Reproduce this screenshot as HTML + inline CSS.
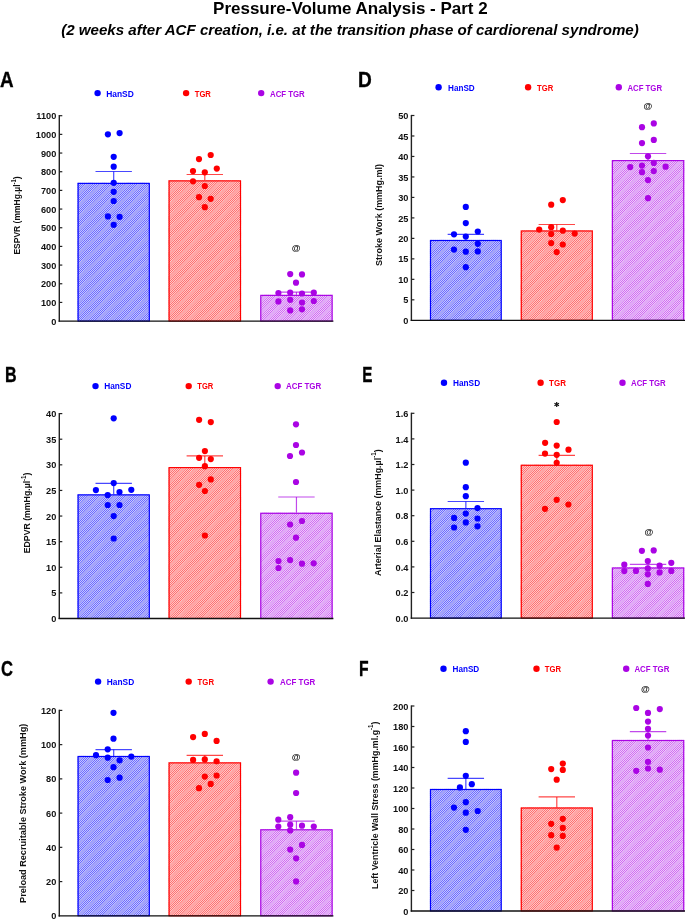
<!DOCTYPE html>
<html><head><meta charset="utf-8"><style>
html,body{margin:0;padding:0;background:#fff;}
body{width:685px;height:920px;overflow:hidden;}
svg{display:block;will-change:transform;}
text{font-family:"Liberation Sans", sans-serif;}
.tk{font-size:9.8px;font-weight:bold;fill:#111;}
.lg{font-size:9.8px;font-weight:bold;}
.pl{font-size:21.4px;font-weight:bold;fill:#000;stroke:#000;stroke-width:0.35px;}
.yl{font-size:9.2px;font-weight:bold;fill:#111;}
.at{font-size:9px;font-weight:bold;fill:#111;}
.star{font-size:11px;font-weight:bold;fill:#111;}
.t1{font-size:17.3px;font-weight:bold;fill:#000;}
.t2{font-size:14.6px;font-weight:bold;font-style:italic;fill:#000;}
</style></head><body>
<svg width="685" height="920" viewBox="0 0 685 920">
<defs>
<pattern id="ckb" width="2" height="2" patternUnits="userSpaceOnUse"><rect width="2" height="2" fill="#c6c6ff"/><rect width="1" height="1" fill="#6c6cff"/><rect x="1" y="1" width="1" height="1" fill="#6c6cff"/></pattern>
<pattern id="stb" width="8.8" height="8.8" patternUnits="userSpaceOnUse" patternTransform="rotate(-43)"><rect width="8.8" height="3.4" fill="#a4a4fa"/></pattern>
<pattern id="ckr" width="2" height="2" patternUnits="userSpaceOnUse"><rect width="2" height="2" fill="#ffc8c8"/><rect width="1" height="1" fill="#ff7070"/><rect x="1" y="1" width="1" height="1" fill="#ff7070"/></pattern>
<pattern id="str" width="8.8" height="8.8" patternUnits="userSpaceOnUse" patternTransform="rotate(-43)"><rect width="8.8" height="3.4" fill="#ffa6a6"/></pattern>
<pattern id="ckp" width="2" height="2" patternUnits="userSpaceOnUse"><rect width="2" height="2" fill="#f0c8fa"/><rect width="1" height="1" fill="#ce70f2"/><rect x="1" y="1" width="1" height="1" fill="#ce70f2"/></pattern>
<pattern id="stp" width="8.8" height="8.8" patternUnits="userSpaceOnUse" patternTransform="rotate(-43)"><rect width="8.8" height="3.4" fill="#e1aaf7"/></pattern>
</defs>
<rect x="77.5" y="182.8" width="72.4" height="138.3" fill="url(#ckb)"/>
<rect x="77.5" y="182.8" width="72.4" height="138.3" fill="url(#stb)"/>
<rect x="78.1" y="183.4" width="71.2" height="137.7" fill="none" stroke="#0000ff" stroke-width="1.15"/>
<line x1="113.7" y1="182.8" x2="113.7" y2="171.5" stroke="#0000ff" stroke-width="1.2" opacity="0.72"/>
<line x1="95.5" y1="171.5" x2="131.9" y2="171.5" stroke="#0000ff" stroke-width="1.2" opacity="0.72"/>
<rect x="168.5" y="180.3" width="72.6" height="140.8" fill="url(#ckr)"/>
<rect x="168.5" y="180.3" width="72.6" height="140.8" fill="url(#str)"/>
<rect x="169.1" y="180.9" width="71.4" height="140.2" fill="none" stroke="#ff0000" stroke-width="1.15"/>
<line x1="204.8" y1="180.3" x2="204.8" y2="174.5" stroke="#ff0000" stroke-width="1.2" opacity="0.72"/>
<line x1="186.6" y1="174.5" x2="223" y2="174.5" stroke="#ff0000" stroke-width="1.2" opacity="0.72"/>
<rect x="260.2" y="294.8" width="72.5" height="26.3" fill="url(#ckp)"/>
<rect x="260.2" y="294.8" width="72.5" height="26.3" fill="url(#stp)"/>
<rect x="260.8" y="295.4" width="71.3" height="25.7" fill="none" stroke="#aa04e4" stroke-width="1.15"/>
<line x1="296.45" y1="294.8" x2="296.45" y2="292.1" stroke="#aa04e4" stroke-width="1.2" opacity="0.72"/>
<line x1="278.25" y1="292.1" x2="314.65" y2="292.1" stroke="#aa04e4" stroke-width="1.2" opacity="0.72"/>
<line x1="59.3" y1="115.1" x2="59.3" y2="321.7" stroke="#222" stroke-width="1.4"/>
<line x1="58.6" y1="321.1" x2="333.4" y2="321.1" stroke="#111" stroke-width="1.3"/>
<text transform="translate(56.3,324.7) scale(0.94,1)" text-anchor="end" class="tk">0</text>
<line x1="59.3" y1="302.43" x2="62.3" y2="302.43" stroke="#222" stroke-width="1.2"/>
<text transform="translate(56.3,306.03) scale(0.94,1)" text-anchor="end" class="tk">100</text>
<line x1="59.3" y1="283.75" x2="62.3" y2="283.75" stroke="#222" stroke-width="1.2"/>
<text transform="translate(56.3,287.35) scale(0.94,1)" text-anchor="end" class="tk">200</text>
<line x1="59.3" y1="265.08" x2="62.3" y2="265.08" stroke="#222" stroke-width="1.2"/>
<text transform="translate(56.3,268.68) scale(0.94,1)" text-anchor="end" class="tk">300</text>
<line x1="59.3" y1="246.41" x2="62.3" y2="246.41" stroke="#222" stroke-width="1.2"/>
<text transform="translate(56.3,250.01) scale(0.94,1)" text-anchor="end" class="tk">400</text>
<line x1="59.3" y1="227.74" x2="62.3" y2="227.74" stroke="#222" stroke-width="1.2"/>
<text transform="translate(56.3,231.34) scale(0.94,1)" text-anchor="end" class="tk">500</text>
<line x1="59.3" y1="209.06" x2="62.3" y2="209.06" stroke="#222" stroke-width="1.2"/>
<text transform="translate(56.3,212.66) scale(0.94,1)" text-anchor="end" class="tk">600</text>
<line x1="59.3" y1="190.39" x2="62.3" y2="190.39" stroke="#222" stroke-width="1.2"/>
<text transform="translate(56.3,193.99) scale(0.94,1)" text-anchor="end" class="tk">700</text>
<line x1="59.3" y1="171.72" x2="62.3" y2="171.72" stroke="#222" stroke-width="1.2"/>
<text transform="translate(56.3,175.32) scale(0.94,1)" text-anchor="end" class="tk">800</text>
<line x1="59.3" y1="153.05" x2="62.3" y2="153.05" stroke="#222" stroke-width="1.2"/>
<text transform="translate(56.3,156.65) scale(0.94,1)" text-anchor="end" class="tk">900</text>
<line x1="59.3" y1="134.37" x2="62.3" y2="134.37" stroke="#222" stroke-width="1.2"/>
<text transform="translate(56.3,137.97) scale(0.94,1)" text-anchor="end" class="tk">1000</text>
<line x1="59.3" y1="115.7" x2="62.3" y2="115.7" stroke="#222" stroke-width="1.2"/>
<text transform="translate(56.3,119.3) scale(0.94,1)" text-anchor="end" class="tk">1100</text>
<circle cx="107.9" cy="134.3" r="3.1" fill="#0000ff"/>
<circle cx="119.6" cy="133.1" r="3.1" fill="#0000ff"/>
<circle cx="113.7" cy="156.8" r="3.1" fill="#0000ff"/>
<circle cx="113.7" cy="166.7" r="3.1" fill="#0000ff"/>
<circle cx="113.7" cy="182.8" r="3.1" fill="#0000ff"/>
<circle cx="113.7" cy="191.8" r="3.1" fill="#0000ff"/>
<circle cx="113.7" cy="201" r="3.1" fill="#0000ff"/>
<circle cx="107.9" cy="216.4" r="3.1" fill="#0000ff"/>
<circle cx="119.6" cy="216.8" r="3.1" fill="#0000ff"/>
<circle cx="113.7" cy="224.8" r="3.1" fill="#0000ff"/>
<circle cx="210.7" cy="155" r="3.1" fill="#ff0000"/>
<circle cx="199" cy="159.1" r="3.1" fill="#ff0000"/>
<circle cx="216.8" cy="168.6" r="3.1" fill="#ff0000"/>
<circle cx="193" cy="171.1" r="3.1" fill="#ff0000"/>
<circle cx="204.8" cy="172.3" r="3.1" fill="#ff0000"/>
<circle cx="193" cy="181.3" r="3.1" fill="#ff0000"/>
<circle cx="204.8" cy="186" r="3.1" fill="#ff0000"/>
<circle cx="199" cy="197.2" r="3.1" fill="#ff0000"/>
<circle cx="210.7" cy="198.8" r="3.1" fill="#ff0000"/>
<circle cx="204.8" cy="207.2" r="3.1" fill="#ff0000"/>
<circle cx="290.2" cy="274.1" r="3.1" fill="#aa04e4"/>
<circle cx="302" cy="274.4" r="3.1" fill="#aa04e4"/>
<circle cx="296" cy="282.7" r="3.1" fill="#aa04e4"/>
<circle cx="278.4" cy="293.1" r="3.1" fill="#aa04e4"/>
<circle cx="290.2" cy="292.7" r="3.1" fill="#aa04e4"/>
<circle cx="302" cy="293.5" r="3.1" fill="#aa04e4"/>
<circle cx="313.8" cy="292.7" r="3.1" fill="#aa04e4"/>
<circle cx="278.4" cy="301.4" r="3.1" fill="#aa04e4"/>
<circle cx="290.2" cy="299.8" r="3.1" fill="#aa04e4"/>
<circle cx="302" cy="302.5" r="3.1" fill="#aa04e4"/>
<circle cx="313.8" cy="301" r="3.1" fill="#aa04e4"/>
<circle cx="290.2" cy="310.4" r="3.1" fill="#aa04e4"/>
<circle cx="302" cy="309.3" r="3.1" fill="#aa04e4"/>
<circle cx="97.6" cy="93.1" r="3.2" fill="#0000ff"/>
<text x="106.2" y="96.5" class="lg" fill="#0000ff" textLength="27.6" lengthAdjust="spacingAndGlyphs">HanSD</text>
<circle cx="186.1" cy="93.1" r="3.2" fill="#ff0000"/>
<text x="194.7" y="96.5" class="lg" fill="#ff0000" textLength="16.2" lengthAdjust="spacingAndGlyphs">TGR</text>
<circle cx="261.2" cy="93.1" r="3.2" fill="#aa04e4"/>
<text x="270" y="96.5" class="lg" fill="#aa04e4" textLength="34.7" lengthAdjust="spacingAndGlyphs">ACF TGR</text>
<text x="296.2" y="251.4" text-anchor="middle" class="at">@</text>
<text x="0" y="86.7" class="pl" textLength="13.6" lengthAdjust="spacingAndGlyphs">A</text>
<text transform="translate(20.2,215.5) rotate(-90)" x="-39.1" y="0" class="yl" textLength="78.2" lengthAdjust="spacingAndGlyphs">ESPVR (mmHg.µl<tspan font-size="6.4" dy="-4.6">-1</tspan><tspan dy="4.6">)</tspan></text>
<rect x="429.9" y="239.9" width="71.9" height="80.4" fill="url(#ckb)"/>
<rect x="429.9" y="239.9" width="71.9" height="80.4" fill="url(#stb)"/>
<rect x="430.5" y="240.5" width="70.7" height="79.8" fill="none" stroke="#0000ff" stroke-width="1.15"/>
<line x1="465.85" y1="239.9" x2="465.85" y2="234.3" stroke="#0000ff" stroke-width="1.2" opacity="0.72"/>
<line x1="447.65" y1="234.3" x2="484.05" y2="234.3" stroke="#0000ff" stroke-width="1.2" opacity="0.72"/>
<rect x="520.7" y="230.4" width="72.2" height="89.9" fill="url(#ckr)"/>
<rect x="520.7" y="230.4" width="72.2" height="89.9" fill="url(#str)"/>
<rect x="521.3" y="231" width="71" height="89.3" fill="none" stroke="#ff0000" stroke-width="1.15"/>
<line x1="556.8" y1="230.4" x2="556.8" y2="224.5" stroke="#ff0000" stroke-width="1.2" opacity="0.72"/>
<line x1="538.6" y1="224.5" x2="575" y2="224.5" stroke="#ff0000" stroke-width="1.2" opacity="0.72"/>
<rect x="611.8" y="160" width="72.5" height="160.3" fill="url(#ckp)"/>
<rect x="611.8" y="160" width="72.5" height="160.3" fill="url(#stp)"/>
<rect x="612.4" y="160.6" width="71.3" height="159.7" fill="none" stroke="#aa04e4" stroke-width="1.15"/>
<line x1="648.05" y1="160" x2="648.05" y2="153.5" stroke="#aa04e4" stroke-width="1.2" opacity="0.72"/>
<line x1="629.85" y1="153.5" x2="666.25" y2="153.5" stroke="#aa04e4" stroke-width="1.2" opacity="0.72"/>
<line x1="411.4" y1="114.9" x2="411.4" y2="320.9" stroke="#222" stroke-width="1.4"/>
<line x1="410.7" y1="320.3" x2="685" y2="320.3" stroke="#111" stroke-width="1.3"/>
<text transform="translate(408.4,323.9) scale(0.94,1)" text-anchor="end" class="tk">0</text>
<line x1="411.4" y1="299.82" x2="414.4" y2="299.82" stroke="#222" stroke-width="1.2"/>
<text transform="translate(408.4,303.42) scale(0.94,1)" text-anchor="end" class="tk">5</text>
<line x1="411.4" y1="279.34" x2="414.4" y2="279.34" stroke="#222" stroke-width="1.2"/>
<text transform="translate(408.4,282.94) scale(0.94,1)" text-anchor="end" class="tk">10</text>
<line x1="411.4" y1="258.86" x2="414.4" y2="258.86" stroke="#222" stroke-width="1.2"/>
<text transform="translate(408.4,262.46) scale(0.94,1)" text-anchor="end" class="tk">15</text>
<line x1="411.4" y1="238.38" x2="414.4" y2="238.38" stroke="#222" stroke-width="1.2"/>
<text transform="translate(408.4,241.98) scale(0.94,1)" text-anchor="end" class="tk">20</text>
<line x1="411.4" y1="217.9" x2="414.4" y2="217.9" stroke="#222" stroke-width="1.2"/>
<text transform="translate(408.4,221.5) scale(0.94,1)" text-anchor="end" class="tk">25</text>
<line x1="411.4" y1="197.42" x2="414.4" y2="197.42" stroke="#222" stroke-width="1.2"/>
<text transform="translate(408.4,201.02) scale(0.94,1)" text-anchor="end" class="tk">30</text>
<line x1="411.4" y1="176.94" x2="414.4" y2="176.94" stroke="#222" stroke-width="1.2"/>
<text transform="translate(408.4,180.54) scale(0.94,1)" text-anchor="end" class="tk">35</text>
<line x1="411.4" y1="156.46" x2="414.4" y2="156.46" stroke="#222" stroke-width="1.2"/>
<text transform="translate(408.4,160.06) scale(0.94,1)" text-anchor="end" class="tk">40</text>
<line x1="411.4" y1="135.98" x2="414.4" y2="135.98" stroke="#222" stroke-width="1.2"/>
<text transform="translate(408.4,139.58) scale(0.94,1)" text-anchor="end" class="tk">45</text>
<line x1="411.4" y1="115.5" x2="414.4" y2="115.5" stroke="#222" stroke-width="1.2"/>
<text transform="translate(408.4,119.1) scale(0.94,1)" text-anchor="end" class="tk">50</text>
<circle cx="465.8" cy="206.9" r="3.1" fill="#0000ff"/>
<circle cx="465.8" cy="223.1" r="3.1" fill="#0000ff"/>
<circle cx="454" cy="234.3" r="3.1" fill="#0000ff"/>
<circle cx="477.8" cy="231.5" r="3.1" fill="#0000ff"/>
<circle cx="465.8" cy="236.5" r="3.1" fill="#0000ff"/>
<circle cx="477.8" cy="243.8" r="3.1" fill="#0000ff"/>
<circle cx="454" cy="249.6" r="3.1" fill="#0000ff"/>
<circle cx="465.8" cy="251.7" r="3.1" fill="#0000ff"/>
<circle cx="477.8" cy="251.4" r="3.1" fill="#0000ff"/>
<circle cx="465.8" cy="267.2" r="3.1" fill="#0000ff"/>
<circle cx="562.8" cy="200.1" r="3.1" fill="#ff0000"/>
<circle cx="551.2" cy="204.7" r="3.1" fill="#ff0000"/>
<circle cx="551.2" cy="227.2" r="3.1" fill="#ff0000"/>
<circle cx="539.2" cy="229.6" r="3.1" fill="#ff0000"/>
<circle cx="562.8" cy="230.7" r="3.1" fill="#ff0000"/>
<circle cx="551.2" cy="234" r="3.1" fill="#ff0000"/>
<circle cx="574.7" cy="233.6" r="3.1" fill="#ff0000"/>
<circle cx="551.2" cy="243.1" r="3.1" fill="#ff0000"/>
<circle cx="562.8" cy="244.5" r="3.1" fill="#ff0000"/>
<circle cx="556.7" cy="252.1" r="3.1" fill="#ff0000"/>
<circle cx="653.8" cy="123.4" r="3.1" fill="#aa04e4"/>
<circle cx="642" cy="127.2" r="3.1" fill="#aa04e4"/>
<circle cx="653.8" cy="139.9" r="3.1" fill="#aa04e4"/>
<circle cx="642" cy="143.1" r="3.1" fill="#aa04e4"/>
<circle cx="648" cy="156.3" r="3.1" fill="#aa04e4"/>
<circle cx="653.8" cy="162.9" r="3.1" fill="#aa04e4"/>
<circle cx="642" cy="165.6" r="3.1" fill="#aa04e4"/>
<circle cx="630.2" cy="167.1" r="3.1" fill="#aa04e4"/>
<circle cx="665.6" cy="166.7" r="3.1" fill="#aa04e4"/>
<circle cx="642" cy="172.2" r="3.1" fill="#aa04e4"/>
<circle cx="653.8" cy="171.1" r="3.1" fill="#aa04e4"/>
<circle cx="648" cy="180.1" r="3.1" fill="#aa04e4"/>
<circle cx="648" cy="198.2" r="3.1" fill="#aa04e4"/>
<circle cx="438.6" cy="87.3" r="3.2" fill="#0000ff"/>
<text x="448" y="90.7" class="lg" fill="#0000ff" textLength="26.7" lengthAdjust="spacingAndGlyphs">HanSD</text>
<circle cx="528.1" cy="87.3" r="3.2" fill="#ff0000"/>
<text x="537.1" y="90.7" class="lg" fill="#ff0000" textLength="16.2" lengthAdjust="spacingAndGlyphs">TGR</text>
<circle cx="618.8" cy="87.3" r="3.2" fill="#aa04e4"/>
<text x="627.4" y="90.7" class="lg" fill="#aa04e4" textLength="34.7" lengthAdjust="spacingAndGlyphs">ACF TGR</text>
<text x="648" y="108.7" text-anchor="middle" class="at">@</text>
<text x="357.9" y="86.7" class="pl" textLength="13.8" lengthAdjust="spacingAndGlyphs">D</text>
<text transform="translate(382.4,215) rotate(-90)" x="-51" y="0" class="yl" textLength="102" lengthAdjust="spacingAndGlyphs">Stroke Work (mmHg.ml)</text>
<rect x="77.5" y="494.3" width="72.4" height="124.2" fill="url(#ckb)"/>
<rect x="77.5" y="494.3" width="72.4" height="124.2" fill="url(#stb)"/>
<rect x="78.1" y="494.9" width="71.2" height="123.6" fill="none" stroke="#0000ff" stroke-width="1.15"/>
<line x1="113.7" y1="494.3" x2="113.7" y2="483.4" stroke="#0000ff" stroke-width="1.2" opacity="0.72"/>
<line x1="95.5" y1="483.4" x2="131.9" y2="483.4" stroke="#0000ff" stroke-width="1.2" opacity="0.72"/>
<rect x="168.5" y="467" width="72.6" height="151.5" fill="url(#ckr)"/>
<rect x="168.5" y="467" width="72.6" height="151.5" fill="url(#str)"/>
<rect x="169.1" y="467.6" width="71.4" height="150.9" fill="none" stroke="#ff0000" stroke-width="1.15"/>
<line x1="204.8" y1="467" x2="204.8" y2="455.9" stroke="#ff0000" stroke-width="1.2" opacity="0.72"/>
<line x1="186.6" y1="455.9" x2="223" y2="455.9" stroke="#ff0000" stroke-width="1.2" opacity="0.72"/>
<rect x="260.2" y="512.7" width="72.5" height="105.8" fill="url(#ckp)"/>
<rect x="260.2" y="512.7" width="72.5" height="105.8" fill="url(#stp)"/>
<rect x="260.8" y="513.3" width="71.3" height="105.2" fill="none" stroke="#aa04e4" stroke-width="1.15"/>
<line x1="296.45" y1="512.7" x2="296.45" y2="497" stroke="#aa04e4" stroke-width="1.2" opacity="0.72"/>
<line x1="278.25" y1="497" x2="314.65" y2="497" stroke="#aa04e4" stroke-width="1.2" opacity="0.72"/>
<line x1="59.3" y1="413" x2="59.3" y2="619.1" stroke="#222" stroke-width="1.4"/>
<line x1="58.6" y1="618.5" x2="333.4" y2="618.5" stroke="#111" stroke-width="1.3"/>
<text transform="translate(56.3,622.1) scale(0.94,1)" text-anchor="end" class="tk">0</text>
<line x1="59.3" y1="592.89" x2="62.3" y2="592.89" stroke="#222" stroke-width="1.2"/>
<text transform="translate(56.3,596.49) scale(0.94,1)" text-anchor="end" class="tk">5</text>
<line x1="59.3" y1="567.27" x2="62.3" y2="567.27" stroke="#222" stroke-width="1.2"/>
<text transform="translate(56.3,570.88) scale(0.94,1)" text-anchor="end" class="tk">10</text>
<line x1="59.3" y1="541.66" x2="62.3" y2="541.66" stroke="#222" stroke-width="1.2"/>
<text transform="translate(56.3,545.26) scale(0.94,1)" text-anchor="end" class="tk">15</text>
<line x1="59.3" y1="516.05" x2="62.3" y2="516.05" stroke="#222" stroke-width="1.2"/>
<text transform="translate(56.3,519.65) scale(0.94,1)" text-anchor="end" class="tk">20</text>
<line x1="59.3" y1="490.44" x2="62.3" y2="490.44" stroke="#222" stroke-width="1.2"/>
<text transform="translate(56.3,494.04) scale(0.94,1)" text-anchor="end" class="tk">25</text>
<line x1="59.3" y1="464.83" x2="62.3" y2="464.83" stroke="#222" stroke-width="1.2"/>
<text transform="translate(56.3,468.43) scale(0.94,1)" text-anchor="end" class="tk">30</text>
<line x1="59.3" y1="439.21" x2="62.3" y2="439.21" stroke="#222" stroke-width="1.2"/>
<text transform="translate(56.3,442.81) scale(0.94,1)" text-anchor="end" class="tk">35</text>
<line x1="59.3" y1="413.6" x2="62.3" y2="413.6" stroke="#222" stroke-width="1.2"/>
<text transform="translate(56.3,417.2) scale(0.94,1)" text-anchor="end" class="tk">40</text>
<circle cx="113.7" cy="418.3" r="3.1" fill="#0000ff"/>
<circle cx="113.7" cy="483.1" r="3.1" fill="#0000ff"/>
<circle cx="95.9" cy="490.1" r="3.1" fill="#0000ff"/>
<circle cx="131.3" cy="489.8" r="3.1" fill="#0000ff"/>
<circle cx="119.5" cy="492.1" r="3.1" fill="#0000ff"/>
<circle cx="107.7" cy="495.1" r="3.1" fill="#0000ff"/>
<circle cx="107.7" cy="505" r="3.1" fill="#0000ff"/>
<circle cx="119.5" cy="505" r="3.1" fill="#0000ff"/>
<circle cx="113.7" cy="516.1" r="3.1" fill="#0000ff"/>
<circle cx="113.7" cy="538.5" r="3.1" fill="#0000ff"/>
<circle cx="199.1" cy="419.8" r="3.1" fill="#ff0000"/>
<circle cx="210.8" cy="422.1" r="3.1" fill="#ff0000"/>
<circle cx="204.9" cy="451.1" r="3.1" fill="#ff0000"/>
<circle cx="199.1" cy="457.8" r="3.1" fill="#ff0000"/>
<circle cx="210.8" cy="459.1" r="3.1" fill="#ff0000"/>
<circle cx="204.9" cy="466.2" r="3.1" fill="#ff0000"/>
<circle cx="210.8" cy="479.4" r="3.1" fill="#ff0000"/>
<circle cx="199.1" cy="484.8" r="3.1" fill="#ff0000"/>
<circle cx="204.9" cy="491" r="3.1" fill="#ff0000"/>
<circle cx="204.9" cy="535.5" r="3.1" fill="#ff0000"/>
<circle cx="296" cy="424.3" r="3.1" fill="#aa04e4"/>
<circle cx="296" cy="445" r="3.1" fill="#aa04e4"/>
<circle cx="290" cy="456" r="3.1" fill="#aa04e4"/>
<circle cx="302" cy="452.5" r="3.1" fill="#aa04e4"/>
<circle cx="296" cy="482" r="3.1" fill="#aa04e4"/>
<circle cx="302" cy="521" r="3.1" fill="#aa04e4"/>
<circle cx="290.1" cy="524.5" r="3.1" fill="#aa04e4"/>
<circle cx="296" cy="537.7" r="3.1" fill="#aa04e4"/>
<circle cx="278.5" cy="561" r="3.1" fill="#aa04e4"/>
<circle cx="290.1" cy="560.1" r="3.1" fill="#aa04e4"/>
<circle cx="302" cy="563.7" r="3.1" fill="#aa04e4"/>
<circle cx="313.7" cy="563.3" r="3.1" fill="#aa04e4"/>
<circle cx="278.5" cy="568" r="3.1" fill="#aa04e4"/>
<circle cx="95.5" cy="386.1" r="3.2" fill="#0000ff"/>
<text x="104.2" y="388.9" class="lg" fill="#0000ff" textLength="27.2" lengthAdjust="spacingAndGlyphs">HanSD</text>
<circle cx="188.7" cy="386.1" r="3.2" fill="#ff0000"/>
<text x="197.3" y="388.9" class="lg" fill="#ff0000" textLength="16" lengthAdjust="spacingAndGlyphs">TGR</text>
<circle cx="277.7" cy="386.1" r="3.2" fill="#aa04e4"/>
<text x="285.9" y="388.9" class="lg" fill="#aa04e4" textLength="35.4" lengthAdjust="spacingAndGlyphs">ACF TGR</text>
<text x="4.9" y="381.6" class="pl" textLength="11.6" lengthAdjust="spacingAndGlyphs">B</text>
<text transform="translate(30.4,512.95) rotate(-90)" x="-40.35" y="0" class="yl" textLength="80.7" lengthAdjust="spacingAndGlyphs">EDPVR (mmHg.µl<tspan font-size="6.4" dy="-4.6">-1</tspan><tspan dy="4.6">)</tspan></text>
<rect x="429.9" y="508.1" width="71.9" height="110" fill="url(#ckb)"/>
<rect x="429.9" y="508.1" width="71.9" height="110" fill="url(#stb)"/>
<rect x="430.5" y="508.7" width="70.7" height="109.4" fill="none" stroke="#0000ff" stroke-width="1.15"/>
<line x1="465.85" y1="508.1" x2="465.85" y2="501.5" stroke="#0000ff" stroke-width="1.2" opacity="0.72"/>
<line x1="447.65" y1="501.5" x2="484.05" y2="501.5" stroke="#0000ff" stroke-width="1.2" opacity="0.72"/>
<rect x="520.7" y="464.7" width="72.2" height="153.4" fill="url(#ckr)"/>
<rect x="520.7" y="464.7" width="72.2" height="153.4" fill="url(#str)"/>
<rect x="521.3" y="465.3" width="71" height="152.8" fill="none" stroke="#ff0000" stroke-width="1.15"/>
<line x1="556.8" y1="464.7" x2="556.8" y2="455.3" stroke="#ff0000" stroke-width="1.2" opacity="0.72"/>
<line x1="538.6" y1="455.3" x2="575" y2="455.3" stroke="#ff0000" stroke-width="1.2" opacity="0.72"/>
<rect x="611.8" y="567.4" width="72.5" height="50.7" fill="url(#ckp)"/>
<rect x="611.8" y="567.4" width="72.5" height="50.7" fill="url(#stp)"/>
<rect x="612.4" y="568" width="71.3" height="50.1" fill="none" stroke="#aa04e4" stroke-width="1.15"/>
<line x1="648.05" y1="567.4" x2="648.05" y2="564.3" stroke="#aa04e4" stroke-width="1.2" opacity="0.72"/>
<line x1="629.85" y1="564.3" x2="666.25" y2="564.3" stroke="#aa04e4" stroke-width="1.2" opacity="0.72"/>
<line x1="411.4" y1="412.7" x2="411.4" y2="618.7" stroke="#222" stroke-width="1.4"/>
<line x1="410.7" y1="618.1" x2="685" y2="618.1" stroke="#111" stroke-width="1.3"/>
<text transform="translate(408.4,621.7) scale(0.94,1)" text-anchor="end" class="tk">0.0</text>
<line x1="411.4" y1="592.5" x2="414.4" y2="592.5" stroke="#222" stroke-width="1.2"/>
<text transform="translate(408.4,596.1) scale(0.94,1)" text-anchor="end" class="tk">0.2</text>
<line x1="411.4" y1="566.9" x2="414.4" y2="566.9" stroke="#222" stroke-width="1.2"/>
<text transform="translate(408.4,570.5) scale(0.94,1)" text-anchor="end" class="tk">0.4</text>
<line x1="411.4" y1="541.3" x2="414.4" y2="541.3" stroke="#222" stroke-width="1.2"/>
<text transform="translate(408.4,544.9) scale(0.94,1)" text-anchor="end" class="tk">0.6</text>
<line x1="411.4" y1="515.7" x2="414.4" y2="515.7" stroke="#222" stroke-width="1.2"/>
<text transform="translate(408.4,519.3) scale(0.94,1)" text-anchor="end" class="tk">0.8</text>
<line x1="411.4" y1="490.1" x2="414.4" y2="490.1" stroke="#222" stroke-width="1.2"/>
<text transform="translate(408.4,493.7) scale(0.94,1)" text-anchor="end" class="tk">1.0</text>
<line x1="411.4" y1="464.5" x2="414.4" y2="464.5" stroke="#222" stroke-width="1.2"/>
<text transform="translate(408.4,468.1) scale(0.94,1)" text-anchor="end" class="tk">1.2</text>
<line x1="411.4" y1="438.9" x2="414.4" y2="438.9" stroke="#222" stroke-width="1.2"/>
<text transform="translate(408.4,442.5) scale(0.94,1)" text-anchor="end" class="tk">1.4</text>
<line x1="411.4" y1="413.3" x2="414.4" y2="413.3" stroke="#222" stroke-width="1.2"/>
<text transform="translate(408.4,416.9) scale(0.94,1)" text-anchor="end" class="tk">1.6</text>
<circle cx="465.8" cy="462.7" r="3.1" fill="#0000ff"/>
<circle cx="465.8" cy="487.2" r="3.1" fill="#0000ff"/>
<circle cx="465.8" cy="496.2" r="3.1" fill="#0000ff"/>
<circle cx="477.5" cy="508.1" r="3.1" fill="#0000ff"/>
<circle cx="465.8" cy="513.6" r="3.1" fill="#0000ff"/>
<circle cx="454.1" cy="517.9" r="3.1" fill="#0000ff"/>
<circle cx="477.5" cy="518.5" r="3.1" fill="#0000ff"/>
<circle cx="465.8" cy="522.4" r="3.1" fill="#0000ff"/>
<circle cx="454.1" cy="527.5" r="3.1" fill="#0000ff"/>
<circle cx="477.5" cy="526.3" r="3.1" fill="#0000ff"/>
<circle cx="556.7" cy="422" r="3.1" fill="#ff0000"/>
<circle cx="545.1" cy="442.8" r="3.1" fill="#ff0000"/>
<circle cx="556.7" cy="445.6" r="3.1" fill="#ff0000"/>
<circle cx="568.5" cy="449.7" r="3.1" fill="#ff0000"/>
<circle cx="545" cy="453.6" r="3.1" fill="#ff0000"/>
<circle cx="556.7" cy="454.8" r="3.1" fill="#ff0000"/>
<circle cx="556.7" cy="462.8" r="3.1" fill="#ff0000"/>
<circle cx="556.7" cy="499.8" r="3.1" fill="#ff0000"/>
<circle cx="568.4" cy="504.5" r="3.1" fill="#ff0000"/>
<circle cx="545" cy="508.8" r="3.1" fill="#ff0000"/>
<circle cx="641.9" cy="550.8" r="3.1" fill="#aa04e4"/>
<circle cx="653.7" cy="550.4" r="3.1" fill="#aa04e4"/>
<circle cx="647.8" cy="561" r="3.1" fill="#aa04e4"/>
<circle cx="624.3" cy="564.7" r="3.1" fill="#aa04e4"/>
<circle cx="671.3" cy="562.8" r="3.1" fill="#aa04e4"/>
<circle cx="659.6" cy="565.7" r="3.1" fill="#aa04e4"/>
<circle cx="647.8" cy="568.4" r="3.1" fill="#aa04e4"/>
<circle cx="624.3" cy="571.1" r="3.1" fill="#aa04e4"/>
<circle cx="636" cy="570.9" r="3.1" fill="#aa04e4"/>
<circle cx="659.6" cy="572.4" r="3.1" fill="#aa04e4"/>
<circle cx="671.3" cy="570.9" r="3.1" fill="#aa04e4"/>
<circle cx="647.8" cy="574.3" r="3.1" fill="#aa04e4"/>
<circle cx="647.8" cy="583.9" r="3.1" fill="#aa04e4"/>
<circle cx="444" cy="382.8" r="3.2" fill="#0000ff"/>
<text x="453" y="386.2" class="lg" fill="#0000ff" textLength="27.1" lengthAdjust="spacingAndGlyphs">HanSD</text>
<circle cx="540.6" cy="382.8" r="3.2" fill="#ff0000"/>
<text x="549.1" y="386.2" class="lg" fill="#ff0000" textLength="16.8" lengthAdjust="spacingAndGlyphs">TGR</text>
<circle cx="622.5" cy="382.8" r="3.2" fill="#aa04e4"/>
<text x="631" y="386.2" class="lg" fill="#aa04e4" textLength="34.7" lengthAdjust="spacingAndGlyphs">ACF TGR</text>
<line x1="556.7" y1="401.9" x2="556.7" y2="407.1" stroke="#111" stroke-width="1.2"/>
<line x1="554.45" y1="403.2" x2="558.95" y2="405.8" stroke="#111" stroke-width="1.2"/>
<line x1="558.95" y1="403.2" x2="554.45" y2="405.8" stroke="#111" stroke-width="1.2"/>
<text x="648.8" y="535" text-anchor="middle" class="at">@</text>
<text x="362.2" y="381.6" class="pl" textLength="10.2" lengthAdjust="spacingAndGlyphs">E</text>
<text transform="translate(380.5,512.7) rotate(-90)" x="-63.3" y="0" class="yl" textLength="126.6" lengthAdjust="spacingAndGlyphs">Arterial Elastance (mmHg.µl<tspan font-size="6.4" dy="-4.6">-1</tspan><tspan dy="4.6">)</tspan></text>
<rect x="77.5" y="755.9" width="72.4" height="159.9" fill="url(#ckb)"/>
<rect x="77.5" y="755.9" width="72.4" height="159.9" fill="url(#stb)"/>
<rect x="78.1" y="756.5" width="71.2" height="159.3" fill="none" stroke="#0000ff" stroke-width="1.15"/>
<line x1="113.7" y1="755.9" x2="113.7" y2="749.6" stroke="#0000ff" stroke-width="1.2" opacity="0.72"/>
<line x1="95.5" y1="749.6" x2="131.9" y2="749.6" stroke="#0000ff" stroke-width="1.2" opacity="0.72"/>
<rect x="168.5" y="762.3" width="72.6" height="153.5" fill="url(#ckr)"/>
<rect x="168.5" y="762.3" width="72.6" height="153.5" fill="url(#str)"/>
<rect x="169.1" y="762.9" width="71.4" height="152.9" fill="none" stroke="#ff0000" stroke-width="1.15"/>
<line x1="204.8" y1="762.3" x2="204.8" y2="755.3" stroke="#ff0000" stroke-width="1.2" opacity="0.72"/>
<line x1="186.6" y1="755.3" x2="223" y2="755.3" stroke="#ff0000" stroke-width="1.2" opacity="0.72"/>
<rect x="260.2" y="829.2" width="72.5" height="86.6" fill="url(#ckp)"/>
<rect x="260.2" y="829.2" width="72.5" height="86.6" fill="url(#stp)"/>
<rect x="260.8" y="829.8" width="71.3" height="86" fill="none" stroke="#aa04e4" stroke-width="1.15"/>
<line x1="296.45" y1="829.2" x2="296.45" y2="821.2" stroke="#aa04e4" stroke-width="1.2" opacity="0.72"/>
<line x1="278.25" y1="821.2" x2="314.65" y2="821.2" stroke="#aa04e4" stroke-width="1.2" opacity="0.72"/>
<line x1="59.3" y1="709.8" x2="59.3" y2="916.4" stroke="#222" stroke-width="1.4"/>
<line x1="58.6" y1="915.8" x2="333.4" y2="915.8" stroke="#111" stroke-width="1.3"/>
<text transform="translate(56.3,919.4) scale(0.94,1)" text-anchor="end" class="tk">0</text>
<line x1="59.3" y1="881.57" x2="62.3" y2="881.57" stroke="#222" stroke-width="1.2"/>
<text transform="translate(56.3,885.17) scale(0.94,1)" text-anchor="end" class="tk">20</text>
<line x1="59.3" y1="847.33" x2="62.3" y2="847.33" stroke="#222" stroke-width="1.2"/>
<text transform="translate(56.3,850.93) scale(0.94,1)" text-anchor="end" class="tk">40</text>
<line x1="59.3" y1="813.1" x2="62.3" y2="813.1" stroke="#222" stroke-width="1.2"/>
<text transform="translate(56.3,816.7) scale(0.94,1)" text-anchor="end" class="tk">60</text>
<line x1="59.3" y1="778.87" x2="62.3" y2="778.87" stroke="#222" stroke-width="1.2"/>
<text transform="translate(56.3,782.47) scale(0.94,1)" text-anchor="end" class="tk">80</text>
<line x1="59.3" y1="744.63" x2="62.3" y2="744.63" stroke="#222" stroke-width="1.2"/>
<text transform="translate(56.3,748.23) scale(0.94,1)" text-anchor="end" class="tk">100</text>
<line x1="59.3" y1="710.4" x2="62.3" y2="710.4" stroke="#222" stroke-width="1.2"/>
<text transform="translate(56.3,714) scale(0.94,1)" text-anchor="end" class="tk">120</text>
<circle cx="113.5" cy="712.8" r="3.1" fill="#0000ff"/>
<circle cx="113.5" cy="738.7" r="3.1" fill="#0000ff"/>
<circle cx="107.7" cy="749.3" r="3.1" fill="#0000ff"/>
<circle cx="96" cy="755.2" r="3.1" fill="#0000ff"/>
<circle cx="107.7" cy="757.7" r="3.1" fill="#0000ff"/>
<circle cx="131.3" cy="756.6" r="3.1" fill="#0000ff"/>
<circle cx="119.6" cy="760.3" r="3.1" fill="#0000ff"/>
<circle cx="113.5" cy="767.2" r="3.1" fill="#0000ff"/>
<circle cx="119.6" cy="777.7" r="3.1" fill="#0000ff"/>
<circle cx="107.7" cy="780" r="3.1" fill="#0000ff"/>
<circle cx="193.1" cy="737.1" r="3.1" fill="#ff0000"/>
<circle cx="204.8" cy="733.9" r="3.1" fill="#ff0000"/>
<circle cx="216.6" cy="740.9" r="3.1" fill="#ff0000"/>
<circle cx="193.1" cy="759.9" r="3.1" fill="#ff0000"/>
<circle cx="204.8" cy="759.4" r="3.1" fill="#ff0000"/>
<circle cx="216.6" cy="761.3" r="3.1" fill="#ff0000"/>
<circle cx="204.8" cy="776.6" r="3.1" fill="#ff0000"/>
<circle cx="216.6" cy="775.5" r="3.1" fill="#ff0000"/>
<circle cx="210.7" cy="783.9" r="3.1" fill="#ff0000"/>
<circle cx="199" cy="788.2" r="3.1" fill="#ff0000"/>
<circle cx="296.1" cy="772.7" r="3.1" fill="#aa04e4"/>
<circle cx="296.1" cy="793" r="3.1" fill="#aa04e4"/>
<circle cx="278.3" cy="819.7" r="3.1" fill="#aa04e4"/>
<circle cx="290.2" cy="817.2" r="3.1" fill="#aa04e4"/>
<circle cx="290.2" cy="824.7" r="3.1" fill="#aa04e4"/>
<circle cx="278.3" cy="826.6" r="3.1" fill="#aa04e4"/>
<circle cx="302" cy="825.7" r="3.1" fill="#aa04e4"/>
<circle cx="313.8" cy="826.6" r="3.1" fill="#aa04e4"/>
<circle cx="290.2" cy="830.4" r="3.1" fill="#aa04e4"/>
<circle cx="302" cy="844.9" r="3.1" fill="#aa04e4"/>
<circle cx="290.2" cy="849.6" r="3.1" fill="#aa04e4"/>
<circle cx="296.1" cy="858.3" r="3.1" fill="#aa04e4"/>
<circle cx="296.1" cy="881.4" r="3.1" fill="#aa04e4"/>
<circle cx="98.1" cy="681.6" r="3.2" fill="#0000ff"/>
<text x="106.8" y="685" class="lg" fill="#0000ff" textLength="27.4" lengthAdjust="spacingAndGlyphs">HanSD</text>
<circle cx="188.7" cy="681.6" r="3.2" fill="#ff0000"/>
<text x="197.6" y="685" class="lg" fill="#ff0000" textLength="16.4" lengthAdjust="spacingAndGlyphs">TGR</text>
<circle cx="270.6" cy="681.6" r="3.2" fill="#aa04e4"/>
<text x="280" y="685" class="lg" fill="#aa04e4" textLength="35.3" lengthAdjust="spacingAndGlyphs">ACF TGR</text>
<text x="296.1" y="759.9" text-anchor="middle" class="at">@</text>
<text x="0.9" y="676.1" class="pl" textLength="12" lengthAdjust="spacingAndGlyphs">C</text>
<text transform="translate(25.5,813.3) rotate(-90)" x="-89.6" y="0" class="yl" textLength="179.2" lengthAdjust="spacingAndGlyphs">Preload Recruitable Stroke Work (mmHg)</text>
<rect x="429.9" y="788.9" width="71.9" height="122.1" fill="url(#ckb)"/>
<rect x="429.9" y="788.9" width="71.9" height="122.1" fill="url(#stb)"/>
<rect x="430.5" y="789.5" width="70.7" height="121.5" fill="none" stroke="#0000ff" stroke-width="1.15"/>
<line x1="465.85" y1="788.9" x2="465.85" y2="778.4" stroke="#0000ff" stroke-width="1.2" opacity="0.72"/>
<line x1="447.65" y1="778.4" x2="484.05" y2="778.4" stroke="#0000ff" stroke-width="1.2" opacity="0.72"/>
<rect x="520.7" y="807.4" width="72.2" height="103.6" fill="url(#ckr)"/>
<rect x="520.7" y="807.4" width="72.2" height="103.6" fill="url(#str)"/>
<rect x="521.3" y="808" width="71" height="103" fill="none" stroke="#ff0000" stroke-width="1.15"/>
<line x1="556.8" y1="807.4" x2="556.8" y2="796.9" stroke="#ff0000" stroke-width="1.2" opacity="0.72"/>
<line x1="538.6" y1="796.9" x2="575" y2="796.9" stroke="#ff0000" stroke-width="1.2" opacity="0.72"/>
<rect x="611.8" y="739.9" width="72.5" height="171.1" fill="url(#ckp)"/>
<rect x="611.8" y="739.9" width="72.5" height="171.1" fill="url(#stp)"/>
<rect x="612.4" y="740.5" width="71.3" height="170.5" fill="none" stroke="#aa04e4" stroke-width="1.15"/>
<line x1="648.05" y1="739.9" x2="648.05" y2="731.7" stroke="#aa04e4" stroke-width="1.2" opacity="0.72"/>
<line x1="629.85" y1="731.7" x2="666.25" y2="731.7" stroke="#aa04e4" stroke-width="1.2" opacity="0.72"/>
<line x1="411.4" y1="705.4" x2="411.4" y2="911.6" stroke="#222" stroke-width="1.4"/>
<line x1="410.7" y1="911" x2="685" y2="911" stroke="#111" stroke-width="1.3"/>
<text transform="translate(408.4,914.6) scale(0.94,1)" text-anchor="end" class="tk">0</text>
<line x1="411.4" y1="890.5" x2="414.4" y2="890.5" stroke="#222" stroke-width="1.2"/>
<text transform="translate(408.4,894.1) scale(0.94,1)" text-anchor="end" class="tk">20</text>
<line x1="411.4" y1="870" x2="414.4" y2="870" stroke="#222" stroke-width="1.2"/>
<text transform="translate(408.4,873.6) scale(0.94,1)" text-anchor="end" class="tk">40</text>
<line x1="411.4" y1="849.5" x2="414.4" y2="849.5" stroke="#222" stroke-width="1.2"/>
<text transform="translate(408.4,853.1) scale(0.94,1)" text-anchor="end" class="tk">60</text>
<line x1="411.4" y1="829" x2="414.4" y2="829" stroke="#222" stroke-width="1.2"/>
<text transform="translate(408.4,832.6) scale(0.94,1)" text-anchor="end" class="tk">80</text>
<line x1="411.4" y1="808.5" x2="414.4" y2="808.5" stroke="#222" stroke-width="1.2"/>
<text transform="translate(408.4,812.1) scale(0.94,1)" text-anchor="end" class="tk">100</text>
<line x1="411.4" y1="788" x2="414.4" y2="788" stroke="#222" stroke-width="1.2"/>
<text transform="translate(408.4,791.6) scale(0.94,1)" text-anchor="end" class="tk">120</text>
<line x1="411.4" y1="767.5" x2="414.4" y2="767.5" stroke="#222" stroke-width="1.2"/>
<text transform="translate(408.4,771.1) scale(0.94,1)" text-anchor="end" class="tk">140</text>
<line x1="411.4" y1="747" x2="414.4" y2="747" stroke="#222" stroke-width="1.2"/>
<text transform="translate(408.4,750.6) scale(0.94,1)" text-anchor="end" class="tk">160</text>
<line x1="411.4" y1="726.5" x2="414.4" y2="726.5" stroke="#222" stroke-width="1.2"/>
<text transform="translate(408.4,730.1) scale(0.94,1)" text-anchor="end" class="tk">180</text>
<line x1="411.4" y1="706" x2="414.4" y2="706" stroke="#222" stroke-width="1.2"/>
<text transform="translate(408.4,709.6) scale(0.94,1)" text-anchor="end" class="tk">200</text>
<circle cx="465.8" cy="731.2" r="3.1" fill="#0000ff"/>
<circle cx="465.8" cy="741.9" r="3.1" fill="#0000ff"/>
<circle cx="465.8" cy="775.8" r="3.1" fill="#0000ff"/>
<circle cx="471.8" cy="784.2" r="3.1" fill="#0000ff"/>
<circle cx="459.9" cy="787.4" r="3.1" fill="#0000ff"/>
<circle cx="465.8" cy="802.2" r="3.1" fill="#0000ff"/>
<circle cx="454" cy="807.6" r="3.1" fill="#0000ff"/>
<circle cx="465.8" cy="812.7" r="3.1" fill="#0000ff"/>
<circle cx="477.7" cy="811" r="3.1" fill="#0000ff"/>
<circle cx="465.8" cy="829.8" r="3.1" fill="#0000ff"/>
<circle cx="562.8" cy="763.6" r="3.1" fill="#ff0000"/>
<circle cx="551.2" cy="769.1" r="3.1" fill="#ff0000"/>
<circle cx="562.8" cy="769.9" r="3.1" fill="#ff0000"/>
<circle cx="556.7" cy="779.7" r="3.1" fill="#ff0000"/>
<circle cx="562.8" cy="818.8" r="3.1" fill="#ff0000"/>
<circle cx="551.2" cy="823.8" r="3.1" fill="#ff0000"/>
<circle cx="562.8" cy="827.9" r="3.1" fill="#ff0000"/>
<circle cx="551.2" cy="835.2" r="3.1" fill="#ff0000"/>
<circle cx="562.8" cy="835.9" r="3.1" fill="#ff0000"/>
<circle cx="556.7" cy="847.6" r="3.1" fill="#ff0000"/>
<circle cx="636.2" cy="708" r="3.1" fill="#aa04e4"/>
<circle cx="659.8" cy="709.1" r="3.1" fill="#aa04e4"/>
<circle cx="648" cy="712.9" r="3.1" fill="#aa04e4"/>
<circle cx="648" cy="721.6" r="3.1" fill="#aa04e4"/>
<circle cx="648" cy="728.8" r="3.1" fill="#aa04e4"/>
<circle cx="648" cy="735.5" r="3.1" fill="#aa04e4"/>
<circle cx="648" cy="747.5" r="3.1" fill="#aa04e4"/>
<circle cx="648" cy="761.8" r="3.1" fill="#aa04e4"/>
<circle cx="648" cy="768.5" r="3.1" fill="#aa04e4"/>
<circle cx="636.2" cy="770.8" r="3.1" fill="#aa04e4"/>
<circle cx="659.8" cy="769.7" r="3.1" fill="#aa04e4"/>
<circle cx="443.5" cy="668.7" r="3.2" fill="#0000ff"/>
<text x="452.5" y="672.1" class="lg" fill="#0000ff" textLength="26.7" lengthAdjust="spacingAndGlyphs">HanSD</text>
<circle cx="536.5" cy="668.7" r="3.2" fill="#ff0000"/>
<text x="544.7" y="672.1" class="lg" fill="#ff0000" textLength="16.3" lengthAdjust="spacingAndGlyphs">TGR</text>
<circle cx="626.2" cy="668.7" r="3.2" fill="#aa04e4"/>
<text x="634.4" y="672.1" class="lg" fill="#aa04e4" textLength="35" lengthAdjust="spacingAndGlyphs">ACF TGR</text>
<text x="645.5" y="691.6" text-anchor="middle" class="at">@</text>
<text x="358.9" y="676.3" class="pl" textLength="9.6" lengthAdjust="spacingAndGlyphs">F</text>
<text transform="translate(377.7,805.25) rotate(-90)" x="-83.75" y="0" class="yl" textLength="167.5" lengthAdjust="spacingAndGlyphs">Left Ventricle Wall Stress (mmHg.ml.g<tspan font-size="6.4" dy="-4.6">-1</tspan><tspan dy="4.6">)</tspan></text>
<text x="213.1" y="13.7" class="t1" textLength="274.5" lengthAdjust="spacingAndGlyphs">Pressure-Volume Analysis - Part 2</text>
<text x="61.2" y="35.2" class="t2" textLength="577.6" lengthAdjust="spacingAndGlyphs">(2 weeks after ACF creation, i.e. at the transition phase of cardiorenal syndrome)</text>
</svg>
</body></html>
